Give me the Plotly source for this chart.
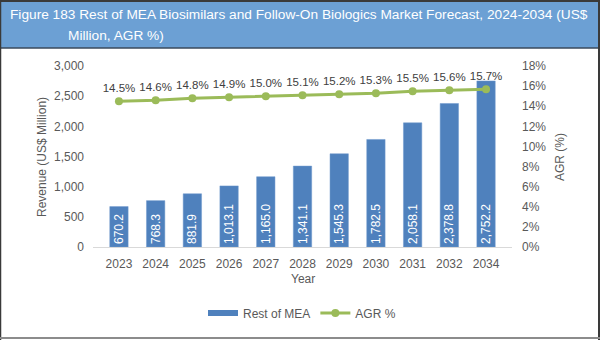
import plotly.graph_objects as go

years = ['2023', '2024', '2025', '2026', '2027', '2028', '2029', '2030', '2031', '2032', '2034']
revenue = [670.2, 768.3, 881.9, 1013.1, 1165.0, 1341.1, 1545.3, 1782.5, 2058.1, 2378.8, 2752.2]
agr = [14.5, 14.6, 14.8, 14.9, 15.0, 15.1, 15.2, 15.3, 15.5, 15.6, 15.7]

W, H = 600, 340
L, R, T, B = 93, 512, 66, 247  # plot area pixel bounds


def px(x):
    return (x - L) / (R - L)


def py(y):
    return (B - y) / (B - T)


FONT = 'Liberation Sans, Arial, sans-serif'
GRAY = '#595959'
BLUE = '#4F81BD'
GREEN = '#9BBB59'

fig = go.Figure()
fig.add_trace(go.Bar(
    x=years, y=revenue, name='Rest of MEA', showlegend=False, legendgroup='bar',
    marker=dict(color=BLUE, line=dict(color='#6E98CC', width=0.5)),
    texttemplate='%{y:,.1f}', textposition='inside', insidetextanchor='start',
    textangle=-90, insidetextfont=dict(color='white', size=12, family=FONT),
    constraintext='none', cliponaxis=False,
))
# legend entry for bars drawn as a flat wide rectangle (no data marks)
fig.add_trace(go.Scatter(
    x=[None], y=[None], name='Rest of MEA', mode='lines', legendgroup='bar',
    line=dict(color=BLUE, width=6),
))
fig.add_trace(go.Scatter(
    x=years, y=agr, name='AGR %', yaxis='y2', mode='lines+markers+text',
    line=dict(color=GREEN, width=3), marker=dict(color=GREEN, size=8),
    text=[f'{v:.1f}%' for v in agr], textposition='top center',
    textfont=dict(color='#404040', size=11.5, family=FONT), cliponaxis=False,
))

shapes = [
    # title banner
    dict(type='rect', xref='paper', yref='paper', x0=px(0), x1=px(W), y0=py(48), y1=py(0),
         fillcolor='#6CA0D4', line=dict(width=0), layer='below'),
    dict(type='line', xref='paper', yref='paper', x0=px(0), x1=px(W), y0=py(48), y1=py(48),
         line=dict(color='#3A4A5C', width=1.5)),
    # frame
    dict(type='line', xref='paper', yref='paper', x0=px(0), x1=px(W), y0=py(1), y1=py(1),
         line=dict(color='#3A3A3A', width=2)),
    dict(type='line', xref='paper', yref='paper', x0=px(0.5), x1=px(0.5), y0=py(0), y1=py(H),
         line=dict(color='#3A3A3A', width=1.5)),
    dict(type='line', xref='paper', yref='paper', x0=px(599), x1=px(599), y0=py(0), y1=py(H),
         line=dict(color='#3A3A3A', width=2)),
    dict(type='line', xref='paper', yref='paper', x0=px(0), x1=px(W), y0=py(338), y1=py(338),
         line=dict(color='#8C8C8C', width=2)),
]

annotations = [
    dict(text='Figure 183 Rest of MEA Biosimilars and Follow-On Biologics Market Forecast, 2024-2034 (US$',
         xref='paper', yref='paper', x=px(8), y=py(14), xanchor='left', yanchor='middle',
         showarrow=False, font=dict(color='white', size=13.7, family=FONT)),
    dict(text='Million, AGR %)', xref='paper', yref='paper', x=px(66), y=py(35),
         xanchor='left', yanchor='middle', showarrow=False,
         font=dict(color='white', size=13.7, family=FONT)),
    dict(text='Revenue (US$ Million)', xref='paper', yref='paper', x=px(42), y=py(157),
         xanchor='center', yanchor='middle', textangle=-90, showarrow=False,
         font=dict(color=GRAY, size=12, family=FONT)),
    dict(text='AGR (%)', xref='paper', yref='paper', x=px(560), y=py(157),
         xanchor='center', yanchor='middle', textangle=-90, showarrow=False,
         font=dict(color=GRAY, size=12, family=FONT)),
    dict(text='Year', xref='paper', yref='paper', x=px(303), y=py(279),
         xanchor='center', yanchor='middle', showarrow=False,
         font=dict(color=GRAY, size=12, family=FONT)),
]

fig.update_layout(
    width=W, height=H,
    margin=dict(l=L, r=W - R, t=T, b=H - B, autoexpand=False),
    paper_bgcolor='white', plot_bgcolor='white',
    font=dict(family=FONT, color=GRAY, size=12),
    bargap=0.5,
    showlegend=True,
    legend=dict(orientation='h', x=px(302), y=py(313), xanchor='center', yanchor='middle',
                font=dict(size=12, color=GRAY, family=FONT), itemwidth=30,
                traceorder='normal'),
    xaxis=dict(showline=True, linecolor='#D9D9D9', linewidth=1, ticks='', showgrid=False,
               tickfont=dict(size=12, color=GRAY), ticklabelstandoff=6),
    yaxis=dict(range=[0, 3000], dtick=500, tickformat=',', showgrid=False, zeroline=False,
               showline=False, ticks='', tickfont=dict(size=12, color=GRAY),
               ticklabelstandoff=8),
    yaxis2=dict(range=[0, 18], dtick=2, ticksuffix='%', overlaying='y', side='right',
                showgrid=False, zeroline=False, showline=False, ticks='',
                tickfont=dict(size=12, color=GRAY), ticklabelstandoff=9),
    shapes=shapes,
    annotations=annotations,
)

fig.write_html('out.html')
